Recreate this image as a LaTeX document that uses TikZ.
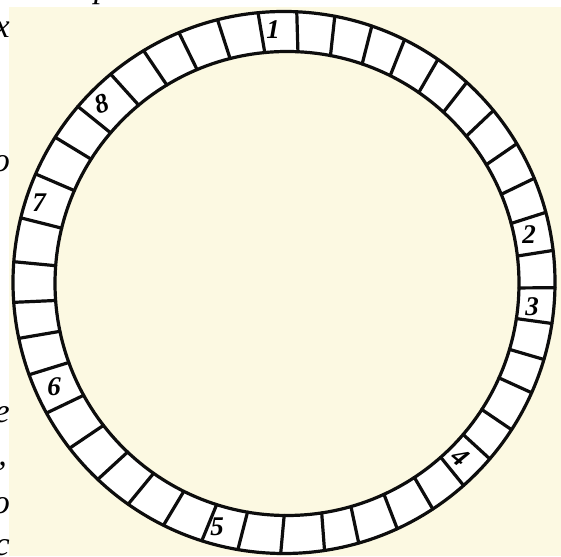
\documentclass[tikz,border=0pt]{standalone}
\usepackage{fontspec}
\setmainfont{Liberation Serif}
\begin{document}
\begin{tikzpicture}[x=1pt,y=1pt,
  ringline/.style={line width=3.2pt, draw=black!95, line cap=round},
  numtext/.style={font=\fontsize{27}{27}\selectfont\bfseries\itshape, inner sep=0pt, text=black},
  edgetext/.style={font=\fontsize{34}{34}\selectfont\itshape, inner sep=0pt}]
\definecolor{cream}{RGB}{252,249,226}
\useasboundingbox (0,0) rectangle (561,556);
\clip (0,0) rectangle (561,556);
\fill[white] (0,0) rectangle (561,556);
\fill[cream] (9,0) rectangle (561,549);
\coordinate (co) at (284,273.5);
\coordinate (ci) at (287,272.5);
\fill[white,even odd rule] (co) circle[radius=271pt] (ci) circle[radius=232pt];
\foreach \a in {6.8,15.0,22.6,30.8,39.4,47.6,55.4,63.6,71.1,79.2,87.3,95.5,104.2,112.8,121.2,129.75,139.5,147.6,156.4,166.2,175.6,184.2,191.9,199.9,208.8,217.7,226.6,234.9,243.6,252.35,260.2,269.3,278.6,286.0,294.7,303.3,311.5,319.4,327.1,336.0,343.5,351.3,358.9}
  \draw[ringline] ([shift={(ci)}]\a:232pt) -- ([shift={(co)}]\a:271pt);
\draw[ringline] (co) circle[radius=271pt];
\draw[ringline] (ci) circle[radius=232pt];
% cell numbers
\node[numtext] (n1) at (273,526) {1};
\node[numtext] (n2) at (529,321) {2};
\node[numtext] (n3) at (532,249) {3};
\node[numtext, rotate=-40] (n4) at (460,99) {4};
\node[numtext] (n5) at (217,29) {5};
\node[numtext] (n6) at (54,169) {6};
\node[numtext] (n7) at (39,353) {7};
\node[numtext, rotate=20] (n8) at (102,452) {8};
% cut-off letters of the surrounding text
\node[edgetext, anchor=base west] (tp) at (94,558) {р};
\node[edgetext, anchor=base east] (t1) at (10,518) {х};
\node[edgetext, anchor=base east] (t2) at (10,384) {о};
\node[edgetext, anchor=base east] (t3) at (10,133) {е};
\node[edgetext, anchor=base east] (t4) at (7,90) {,};
\node[edgetext, anchor=base east] (t5) at (10,43) {о};
\node[edgetext, anchor=base east] (t6) at (10,1) {с};
\end{tikzpicture}
\end{document}
